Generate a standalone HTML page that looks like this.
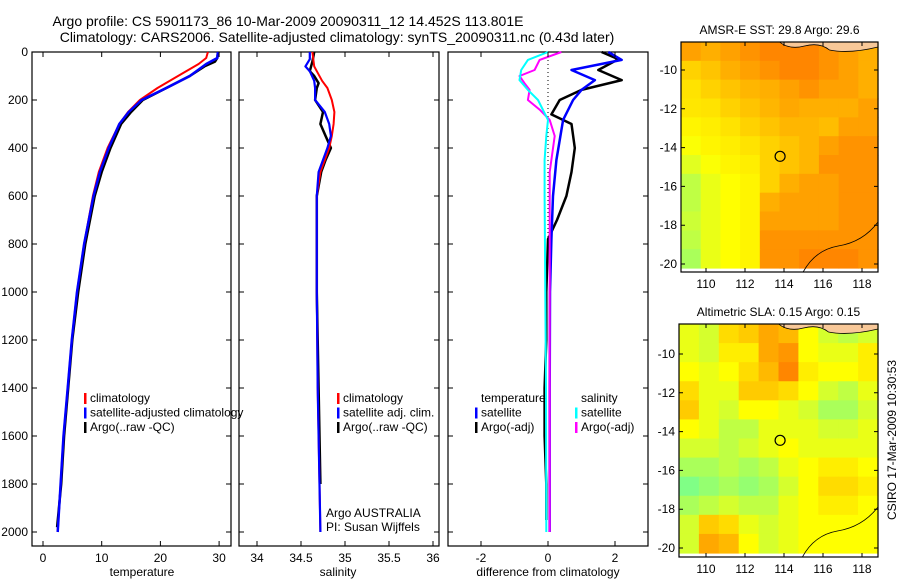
<!DOCTYPE html>
<html><head><meta charset="utf-8"><style>
body{margin:0;background:#fff}
svg{display:block;font-family:"Liberation Sans",sans-serif}
text{fill:#000}
</style></head><body>
<svg id="fig" width="900" height="580" viewBox="0 0 900 580" xmlns="http://www.w3.org/2000/svg">
<text x="288" y="26" font-size="14" text-anchor="middle">Argo profile: CS 5901173_86 10-Mar-2009 20090311_12 14.452S 113.801E</text>
<text x="337" y="42" font-size="14" text-anchor="middle">Climatology: CARS2006. Satellite-adjusted climatology: synTS_20090311.nc (0.43d later)</text>
<g id="g"></g>
</svg>
<script>
// ---- Profile data ----
const tDepth = [0,25,50,100,150,200,250,300,400,500,600,800,1000,1200,1400,1600,1800,2000];
const tClim = [28.1,27.8,26.5,23,19.5,16.5,14.5,13,11,9.5,8.5,7,5.8,4.9,4.2,3.5,3.0,2.5];
const tSat  = [29.8,29.7,27.8,25,21,16.8,14.6,13,11.2,9.7,8.6,7,5.8,4.9,4.2,3.5,3.0,2.5];
const tArgoDepth = [0,25,40,60,100,150,200,250,300,400,500,600,800,1000,1200,1400,1600,1800,1980];
const tArgo = [29.8,29.7,29.3,27.5,25,21,17,15,13.3,11.5,10,8.8,7.2,6,5,4.3,3.6,3.1,2.4];

const sDepth = [0,30,60,80,120,150,200,250,300,350,400,500,600,800,1000,1400,2000];
const sClim = [34.63,34.64,34.65,34.68,34.74,34.8,34.85,34.88,34.87,34.85,34.82,34.72,34.68,34.68,34.68,34.69,34.72];
const sSat  = [34.6,34.6,34.55,34.6,34.65,34.66,34.66,34.77,34.82,34.84,34.8,34.7,34.68,34.68,34.68,34.69,34.72];
const sArgoDepth = [0,40,80,100,130,150,200,250,300,350,400,450,500,600,1000,1400,1800];
const sArgo = [34.65,34.63,34.6,34.65,34.7,34.68,34.66,34.75,34.72,34.78,34.84,34.78,34.73,34.68,34.68,34.7,34.72];

const dDepth = [0,33,75,117,158,200,283,450,600,780,1000,1400,2000];
const dTempSat = [1.8,2.2,0.7,1.4,1.0,0.75,0.45,0.25,0.15,0.1,0.06,0.05,0.05];
const dArgoDepth = [0,30,75,117,158,200,260,300,400,500,600,700,780,1000,1200,1400,1600,1800,1950];
const dTempArgo = [1.6,2.1,1.5,2.2,1.0,0.35,0.1,0.7,0.8,0.7,0.55,0.27,0,-0.05,-0.05,-0.1,-0.1,-0.05,-0.05];
const dSalDepth = [0,33,75,117,158,200,283,350,450,600,1000,1400,2000];
const dSalSat = [0,-0.6,-0.8,-0.85,-0.6,-0.3,0,-0.05,-0.1,-0.1,-0.08,-0.06,-0.05];
const dSalArgoDepth = [0,33,75,100,130,158,200,240,283,350,500,1000,2000];
const dSalArgo = [0.4,-0.25,-0.4,-0.85,-0.7,-0.55,-0.6,-0.25,0.05,0.2,0.05,0.05,0.05];

const depthTicks = [0,200,400,600,800,1000,1200,1400,1600,1800,2000];
const tempTicks = [0,10,20,30];
const salTicks = [34,34.5,35,35.5,36];
const diffTicks = [-2,0,2];

// ---- Map data (coarse grids, 0=cool .. 1=warm) ----
const sstGrid = [
[.72,.68,.72,.76,.8,.8,.8,.76,.72,.68],
[.58,.62,.68,.72,.76,.8,.8,.76,.72,.68],
[.53,.58,.62,.66,.68,.72,.76,.72,.72,.68],
[.52,.53,.58,.62,.66,.7,.68,.68,.68,.72],
[.48,.5,.53,.58,.62,.66,.66,.64,.72,.72],
[.44,.48,.5,.53,.58,.62,.66,.72,.76,.76],
[.38,.44,.48,.5,.58,.62,.66,.76,.76,.76],
[.3,.4,.45,.48,.58,.68,.72,.72,.76,.76],
[.3,.4,.45,.48,.68,.72,.72,.72,.76,.76],
[.33,.4,.45,.48,.72,.72,.72,.72,.76,.76],
[.3,.4,.45,.48,.76,.76,.76,.76,.76,.76],
[.25,.4,.45,.48,.76,.76,.8,.8,.8,.76]];
const slaGrid = [
[.4,.35,.55,.6,.7,.65,.45,.35,.3,.35],
[.4,.35,.5,.5,.7,.75,.45,.4,.4,.5],
[.45,.4,.45,.55,.65,.8,.5,.45,.45,.5],
[.55,.4,.4,.6,.6,.55,.45,.35,.3,.4],
[.6,.4,.35,.45,.45,.4,.35,.25,.25,.35],
[.45,.4,.3,.3,.4,.4,.4,.35,.35,.4],
[.35,.35,.3,.35,.4,.45,.4,.4,.4,.4],
[.25,.25,.3,.25,.3,.4,.45,.5,.5,.45],
[.15,.2,.25,.2,.25,.35,.45,.55,.55,.5],
[.25,.3,.35,.3,.3,.4,.45,.5,.5,.45],
[.35,.6,.55,.4,.35,.4,.45,.45,.45,.45],
[.35,.7,.65,.45,.35,.4,.45,.45,.45,.45]];
const lonTicks = [110,112,114,116,118];
const latTicks = [-10,-12,-14,-16,-18,-20];
const argoLon = [113.8];
const argoLat = [-14.45];

const NS='http://www.w3.org/2000/svg';
const G=document.getElementById('g');
function mk(tag,attrs,parent){const e=document.createElementNS(NS,tag);for(const k in attrs)e.setAttribute(k,attrs[k]);(parent||G).appendChild(e);return e;}
function txt(x,y,s,size,anchor){const t=mk('text',{x:x,y:y,'font-size':size||12,'text-anchor':anchor||'middle'});t.textContent=s;return t;}

const yTop=52, yBot=546;
const yD = d => 52 + 0.24*d;

function panel(x0,x1,name){
  const r=mk('rect',{x:x0,y:yTop,width:x1-x0,height:yBot-yTop,fill:'none',stroke:'#000','stroke-width':1.2});
  
  
  depthTicks.forEach(d=>{
    const l=mk('path',{d:`M${x0},${yD(d)}h5M${x1},${yD(d)}h-5`,stroke:'#000'});
    
    
  });
}
function line(xs,ds,xf,color,w,name){
  const pts=xs.map((v,i)=>`${xf(v).toFixed(1)},${yD(ds[i]).toFixed(1)}`).join(' ');
  const p=mk('polyline',{points:pts,fill:'none',stroke:color,'stroke-width':w,'stroke-linejoin':'round'});
  
  
}
function xticks(ticks,xf,x0,x1,label,lx,name){
  ticks.forEach(v=>{
    const x=xf(v);
    mk('path',{d:`M${x},${yBot}v-5M${x},${yTop}v5`,stroke:'#000'});
    const t=txt(x,562,String(v),12);
    
    
  });
  const t=txt(lx,576,label,12);
  
  
}
function legend(x,y,items,name){
  items.forEach((it,i)=>{
    const yy=y+i*14.5;
    if(it[0]) mk('rect',{x:x,y:yy-9,width:2.5,height:11,fill:it[0]});
    const t=txt(x+6,yy,it[1],12,'start');
    
    
  });
}

// Panel 1: temperature
const xT=v=>43+5.87*v;
panel(32,231,'temperature-panel');
depthTicks.forEach(d=>{const t=txt(28,yD(d)+4,String(d),12,'end');
  
  });
line(tArgo,tArgoDepth,xT,'#000',2.5,'temp-argo-line');
line(tClim,tDepth,xT,'#f00',2,'temp-climatology-line');
line(tSat,tDepth,xT,'#00f',2.5,'temp-satellite-line');
xticks(tempTicks,xT,32,231,'temperature',142,'temperature');
legend(84,402,[['#f00','climatology'],['#00f','satellite-adjusted climatology'],['#000','Argo(..raw -QC)']],'temp-legend');

// Panel 2: salinity
const xS=v=>257+88*(v-34);
panel(239,439,'salinity-panel');
line(sArgo,sArgoDepth,xS,'#000',2.5,'sal-argo-line');
line(sClim,sDepth,xS,'#f00',2,'sal-climatology-line');
line(sSat,sDepth,xS,'#00f',2.2,'sal-satellite-line');
xticks(salTicks,xS,239,439,'salinity',338,'salinity');
legend(337,402,[['#f00','climatology'],['#00f','satellite adj. clim.'],['#000','Argo(..raw -QC)']],'sal-legend');
{const a=txt(326,517,'Argo AUSTRALIA',12,'start');
 const b=txt(326,531,'PI: Susan Wijffels',12,'start');}

// Panel 3: difference
const xDf=v=>548+33.5*v;
panel(448,648,'difference-panel');
{const z=mk('line',{x1:xDf(0),y1:yTop,x2:xDf(0),y2:yD(850),stroke:'#000','stroke-dasharray':'1,3'});
 }
line(dTempArgo,dArgoDepth,xDf,'#000',2.5,'diff-temp-argo-line');
line(dTempSat,dDepth,xDf,'#00f',2.5,'diff-temp-satellite-line');
line(dSalArgo,dSalArgoDepth,xDf,'#f0f',2,'diff-sal-argo-line');
line(dSalSat,dSalDepth,xDf,'#0ff',2,'diff-sal-satellite-line');
xticks(diffTicks,xDf,448,648,'difference from climatology',548,'difference');
legend(475,402,[[null,'temperature'],['#00f','satellite'],['#000','Argo(-adj)']],'diff-temp-legend');
legend(575,402,[[null,'salinity'],['#0ff','satellite'],['#f0f','Argo(-adj)']],'diff-sal-legend');

// Maps
function cmap(v){
  const stops=[[0,[64,255,200]],[0.25,[170,255,90]],[0.45,[255,255,0]],[0.75,[255,150,0]],[1,[255,70,0]]];
  for(let i=1;i<stops.length;i++){ if(v<=stops[i][0]){const a=stops[i-1],b=stops[i],f=(v-a[0])/(b[0]-a[0]);
    return 'rgb('+a[1].map((c,k)=>Math.round(c+(b[1][k]-c)*f)).join(',')+')';}}
  return 'rgb(255,70,0)';
}
function map(grid,x0,y0,w,h,latY10,latY20,title,name){
  const g=mk('g',{});
  
  
  const lonX=lon=>706+19.5*(lon-110);
  const latY=lat=>latY10+(latY20-latY10)*(-10-lat)/10;
  const rows=grid.length, cols=grid[0].length, cw=w/cols, ch=(h-4)/rows;
  grid.forEach((row,r)=>row.forEach((v,c)=>{
    const cell=mk('rect',{x:x0+c*cw,y:y0+r*ch,width:cw+0.6,height:ch+0.6,fill:cmap(v)},g);
    
    
  }));
  mk('path',{d:`M${x0+w*0.5},${y0} q10,8 25,4 q15,-4 25,4 q20,4 ${w*0.5-50},-3 V${y0} Z`,fill:'#f8c898',stroke:'#000','stroke-width':0.8},g);
  mk('path',{d:`M${x0+w*0.62},${y0+h} q12,-22 35,-26 q25,-4 ${w*0.38-35},-24`,fill:'none',stroke:'#000','stroke-width':0.8},g);
  mk('rect',{x:x0,y:y0,width:w,height:h,fill:'none',stroke:'#000','stroke-width':1.2},g);
  lonTicks.forEach(l=>{const x=lonX(l);mk('path',{d:`M${x},${y0+h}v-4M${x},${y0}v4`,stroke:'#000'},g);
    const t=txt(x,y0+h+16,String(l),12);});
  latTicks.forEach(l=>{const y=latY(l);mk('path',{d:`M${x0},${y}h4M${x0+w},${y}h-4`,stroke:'#000'},g);
    const t=txt(x0-4,y+4,String(l),12,'end');});
  argoLon.forEach((lo,i)=>{const c=mk('circle',{cx:lonX(lo),cy:latY(argoLat[i]),r:5,fill:'none',stroke:'#000','stroke-width':1.2},g);
    });
  const t=txt(x0+w/2,y0-8,title,12);
}
map(sstGrid,681,42,197,230,70,264,'AMSR-E SST: 29.8 Argo: 29.6','sst-map');
map(slaGrid,679,324,199,233,354,548,'Altimetric SLA: 0.15 Argo: 0.15','sla-map');
{const t=txt(0,0,'CSIRO 17-Mar-2009 10:30:53',12);t.setAttribute('transform','translate(896,440) rotate(-90)');
 }
</script>
</body></html>
